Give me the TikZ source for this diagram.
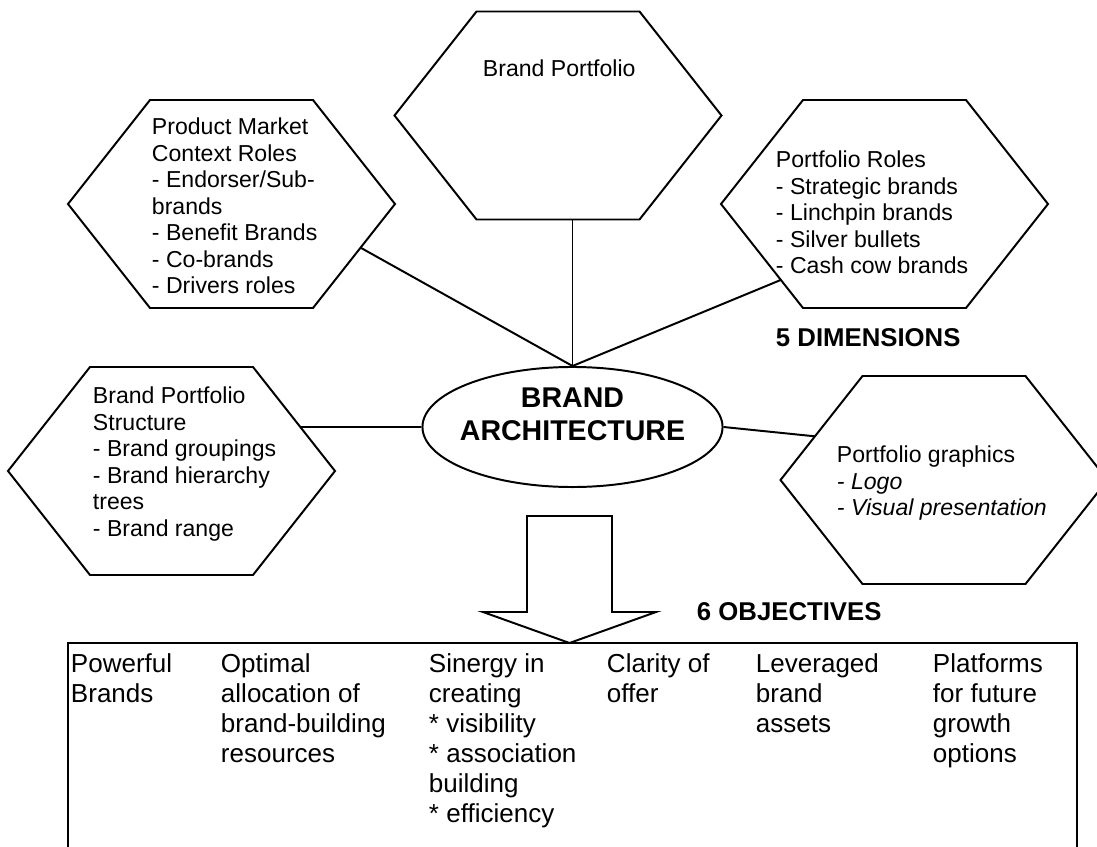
\documentclass[tikz,border=0pt]{standalone}
\usepackage{fontspec}
\setmainfont{Liberation Sans}
\usetikzlibrary{calc,shapes.geometric}

% hexagon frame with named corners: -w, -nw, -ne, -e, -se, -sw
\tikzset{
  hexa/.pic={
    \coordinate (-w)  at (-163.5,0);
    \coordinate (-nw) at (-81.5,-104);
    \coordinate (-ne) at (81.5,-104);
    \coordinate (-e)  at (163.5,0);
    \coordinate (-se) at (81.5,104);
    \coordinate (-sw) at (-81.5,104);
    \draw (-w) -- (-nw) -- (-ne) -- (-e) -- (-se) -- (-sw) -- cycle;
  }
}

\begin{document}
\begin{tikzpicture}[x=0.025cm, y=-0.025cm, line width=1.4pt,
    hub/.style={draw, ellipse, minimum width=7.5cm, minimum height=3cm, inner sep=0pt},
    hubtext/.style={align=center, inner sep=0pt, font=\bfseries\fontsize{20.3}{23.5}\selectfont},
    hextext/.style={anchor=north west, align=left, inner sep=0pt, font=\fontsize{16.4}{18.85}\selectfont},
    goal/.style={anchor=north west, align=left, inner sep=0pt, font=\fontsize{18.5}{21.34}\selectfont},
    heading/.style={anchor=north west, inner sep=0pt, font=\bfseries\fontsize{18.3}{22}\selectfont}]
	\useasboundingbox (0,0) rectangle (1097,847);
	\clip (0,0) rectangle (1097,847);

	% the five dimensions
	\pic (pf) at (558,115.5) {hexa};
	\pic (pmc) at (231.5,204) {hexa};
	\pic (roles) at (884.5,204) {hexa};
	\pic (bps) at (171.5,471) {hexa};
	\pic (graphics) at (944,480) {hexa};

	\node[hextext] (pftext) at (482,59) {Brand Portfolio};
	\node[hextext] (pmctext) at (151,117) {Product Market\\Context Roles\\- Endorser/Sub-\\brands\\- Benefit Brands\\- Co-brands\\- Drivers roles};
	\node[hextext] (rolestext) at (775,150) {Portfolio Roles\\- Strategic brands\\- Linchpin brands\\- Silver bullets\\- Cash cow brands};
	\node[hextext] (bpstext) at (92,386) {Brand Portfolio\\Structure\\- Brand groupings\\- Brand hierarchy\\trees\\- Brand range};
	\node[hextext] (graphicstext) at (836,445) {Portfolio graphics\\\textit{- Logo}\\\textit{- Visual presentation}};

	% centre
	\node[hub] (arch) at (572.5,427) {};
	\node[hubtext] (archtext) at ($(arch)+(0,-13)$) {BRAND\\ARCHITECTURE};

	\draw (arch.north) -- (arch.north |- pf-sw);
	\draw (arch.north) -- ($(pmc-e)!0.42!(pmc-se)$);
	\draw (arch.north) -- ($(roles-w)!0.73!(roles-sw)$);
	\draw (arch.west) -- ($(bps-ne)!0.577!(bps-e)$);
	\draw (arch.east) -- ($(graphics-w)!0.42!(graphics-nw)$);

	\node[heading] (dims) at (775,328) {5 DIMENSIONS};
	\node[heading] (objs) at (696,602) {6 OBJECTIVES};

	% block arrow down to the objectives
	\coordinate (tip) at (569.5,643);
	\draw (527,516) -- (612,516) -- (612,612) -- (656,612) -- (tip) -- (483,612) -- (527,612) -- cycle;

	% the six objectives
	\node[draw, anchor=north west, inner sep=0pt, outer sep=0pt, minimum width=25.225cm, minimum height=7.5cm] (goals) at (68,643) {};
	\node[goal] (g1) at (70,653) {Powerful\\Brands};
	\node[goal] (g2) at (220,653) {Optimal\\allocation of\\brand-building\\resources};
	\node[goal] (g3) at (428,653) {Sinergy in\\creating\\* visibility\\* association\\building\\* efficiency};
	\node[goal] (g4) at (606,653) {Clarity of\\offer};
	\node[goal] (g5) at (755,653) {Leveraged\\brand\\assets};
	\node[goal] (g6) at (932,653) {Platforms\\for future\\growth\\options};
\end{tikzpicture}
\end{document}
